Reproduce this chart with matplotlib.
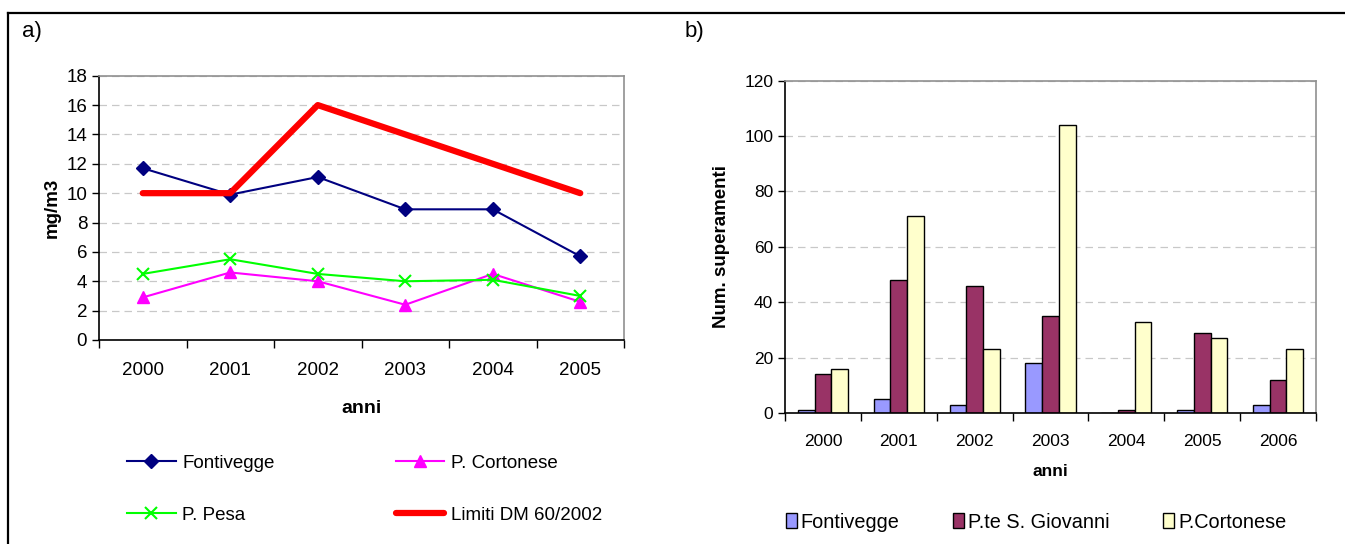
import matplotlib.pyplot as plt
import numpy as np
from matplotlib.lines import Line2D
from matplotlib.patches import Patch

plt.rcParams['font.family'] = ['Liberation Sans', 'DejaVu Sans']

# panel a) - concentrations (mg/m3)
years_a = ['2000', '2001', '2002', '2003', '2004', '2005']
fontivegge_a = [11.7, 9.9, 11.1, 8.9, 8.9, 5.7]
cortonese_a = [2.9, 4.6, 4.0, 2.4, 4.5, 2.6]
pesa_a = [4.5, 5.5, 4.5, 4.0, 4.1, 3.0]
limiti = [10, 10, 16, 14, 12, 10]

# panel b) - number of exceedances
years_b = ['2000', '2001', '2002', '2003', '2004', '2005', '2006']
fontivegge_b = [1, 5, 3, 18, 0, 1, 3]
giovanni_b = [14, 48, 46, 35, 1, 29, 12]
cortonese_b = [16, 71, 23, 104, 33, 27, 23]

fig = plt.figure(figsize=(13.45, 5.44), dpi=100)

# frame lines round the figure (top and left)
W, H = 1345, 544
fig.add_artist(Line2D([8 / W, 1], [1 - 13 / H, 1 - 13 / H], color='black', lw=1.6))
fig.add_artist(Line2D([8 / W, 8 / W], [0, 1 - 13 / H], color='black', lw=1.6))
fig.text(22 / W, 1 - 31 / H, 'a)', fontsize=16, va='center', ha='left')
fig.text(685 / W, 1 - 31 / H, 'b)', fontsize=16, va='center', ha='left')


def style_axes(ax):
    for s in ['top', 'right']:
        ax.spines[s].set_color('#909090')
        ax.spines[s].set_linewidth(1.2)
    for s in ['left', 'bottom']:
        ax.spines[s].set_color('black')
        ax.spines[s].set_linewidth(1.2)
    ax.yaxis.grid(True, color='#c8c8c8', linestyle=(0, (6, 4)), lw=0.9)
    ax.set_axisbelow(True)


# ---- panel a ----
ax1 = fig.add_axes([99 / W, 1 - 340 / H, (624 - 99) / W, (340 - 75.7) / H])
x = np.arange(len(years_a))
ax1.plot(x, fontivegge_a, color='#000080', marker='D', ms=7, lw=1.5, label='Fontivegge')
ax1.plot(x, cortonese_a, color='#FF00FF', marker='^', ms=9, lw=1.5, label='P. Cortonese')
ax1.plot(x, pesa_a, color='#00FF00', marker='x', ms=9, mew=1.5, lw=1.5, label='P. Pesa')
ax1.plot(x, limiti, color='#FF0000', lw=4.5, label='Limiti DM 60/2002', solid_capstyle='round')
ax1.set_xlim(-0.5, len(years_a) - 0.5)
ax1.set_ylim(0, 18)
ax1.set_yticks(range(0, 19, 2))
ax1.set_xticks(np.arange(-0.5, len(years_a)))
ax1.set_xticklabels([])
ax1.set_xticks(x, minor=True)
ax1.set_xticklabels(years_a, minor=True)
ax1.tick_params(axis='x', which='major', length=6, width=1)
ax1.tick_params(axis='x', which='minor', length=0, pad=16, labelsize=13.5)
ax1.tick_params(axis='y', length=5, width=1, labelsize=13.5)
ax1.set_xlabel('anni', fontsize=14, fontweight='bold', labelpad=15)
ax1.set_ylabel('mg/m3', fontsize=13.5, fontweight='bold', labelpad=4)
style_axes(ax1)

h, l = ax1.get_legend_handles_labels()
order = [0, 2, 1, 3]
fig.legend([h[i] for i in order], [l[i] for i in order], ncol=2,
           loc='upper left', bbox_to_anchor=(110 / W, 1 - 438 / H), frameon=False,
           fontsize=13.5, handlelength=2.6, labelspacing=1.85, columnspacing=6.45,
           handletextpad=0.35)

# ---- panel b ----
ax2 = fig.add_axes([785 / W, 1 - 413 / H, (1316 - 785) / W, (413 - 80.7) / H])
xb = np.arange(len(years_b))
bw = 0.22
ax2.bar(xb - bw, fontivegge_b, bw, color='#9999FF', edgecolor='black', lw=1, label='Fontivegge')
ax2.bar(xb, giovanni_b, bw, color='#993366', edgecolor='black', lw=1, label='P.te S. Giovanni')
ax2.bar(xb + bw, cortonese_b, bw, color='#FFFFCC', edgecolor='black', lw=1, label='P.Cortonese')
ax2.set_xlim(-0.5, len(years_b) - 0.5)
ax2.set_ylim(0, 120)
ax2.set_yticks(range(0, 121, 20))
ax2.set_xticks(np.arange(-0.5, len(years_b)))
ax2.set_xticklabels([])
ax2.set_xticks(xb, minor=True)
ax2.set_xticklabels(years_b, minor=True)
ax2.tick_params(axis='x', which='major', length=6, width=1)
ax2.tick_params(axis='x', which='minor', length=0, pad=15, labelsize=12.5)
ax2.tick_params(axis='y', length=5, width=1, labelsize=12.5)
ax2.set_xlabel('anni', fontsize=12.5, fontweight='bold', labelpad=11)
ax2.set_ylabel('Num. superamenti', fontsize=13.5, fontweight='bold', labelpad=10)
style_axes(ax2)

fig.legend(loc='center left', bbox_to_anchor=(768 / W, 1 - 522 / H), ncol=3,
           handles=[Patch(facecolor='#9999FF', edgecolor='black'),
                    Patch(facecolor='#993366', edgecolor='black'),
                    Patch(facecolor='#FFFFCC', edgecolor='black')],
           labels=['Fontivegge', 'P.te S. Giovanni', 'P.Cortonese'],
           frameon=False, fontsize=14.3, handlelength=0.55, handleheight=0.75,
           handletextpad=0.2, columnspacing=2.7)

fig.savefig('out.png', dpi=100)
